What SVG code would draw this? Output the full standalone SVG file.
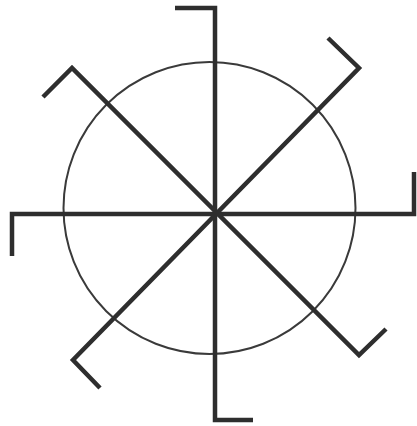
<svg xmlns="http://www.w3.org/2000/svg" width="417" height="426" viewBox="0 0 417 426">
<style>
.s{fill:none;stroke:#2e2e2e;stroke-width:4.5;stroke-linejoin:miter;stroke-linecap:butt}
.c{fill:none;stroke:#3a3a3a;stroke-width:2}
</style>
<rect width="417" height="426" fill="#fff"/>
<g id="circle"><circle class="c" cx="209.5" cy="208" r="146"/></g>
<g id="connectors">
<polyline class="s" points="175,8 215,8 215,420 253,420"/>
<polyline class="s" points="12,256 12,214 414,214 414,172"/>
<polyline class="s" points="43,97 72,68 359,355 386,329"/>
<polyline class="s" points="328,38 359,68 73,360 100,388"/>
</g>
</svg>
